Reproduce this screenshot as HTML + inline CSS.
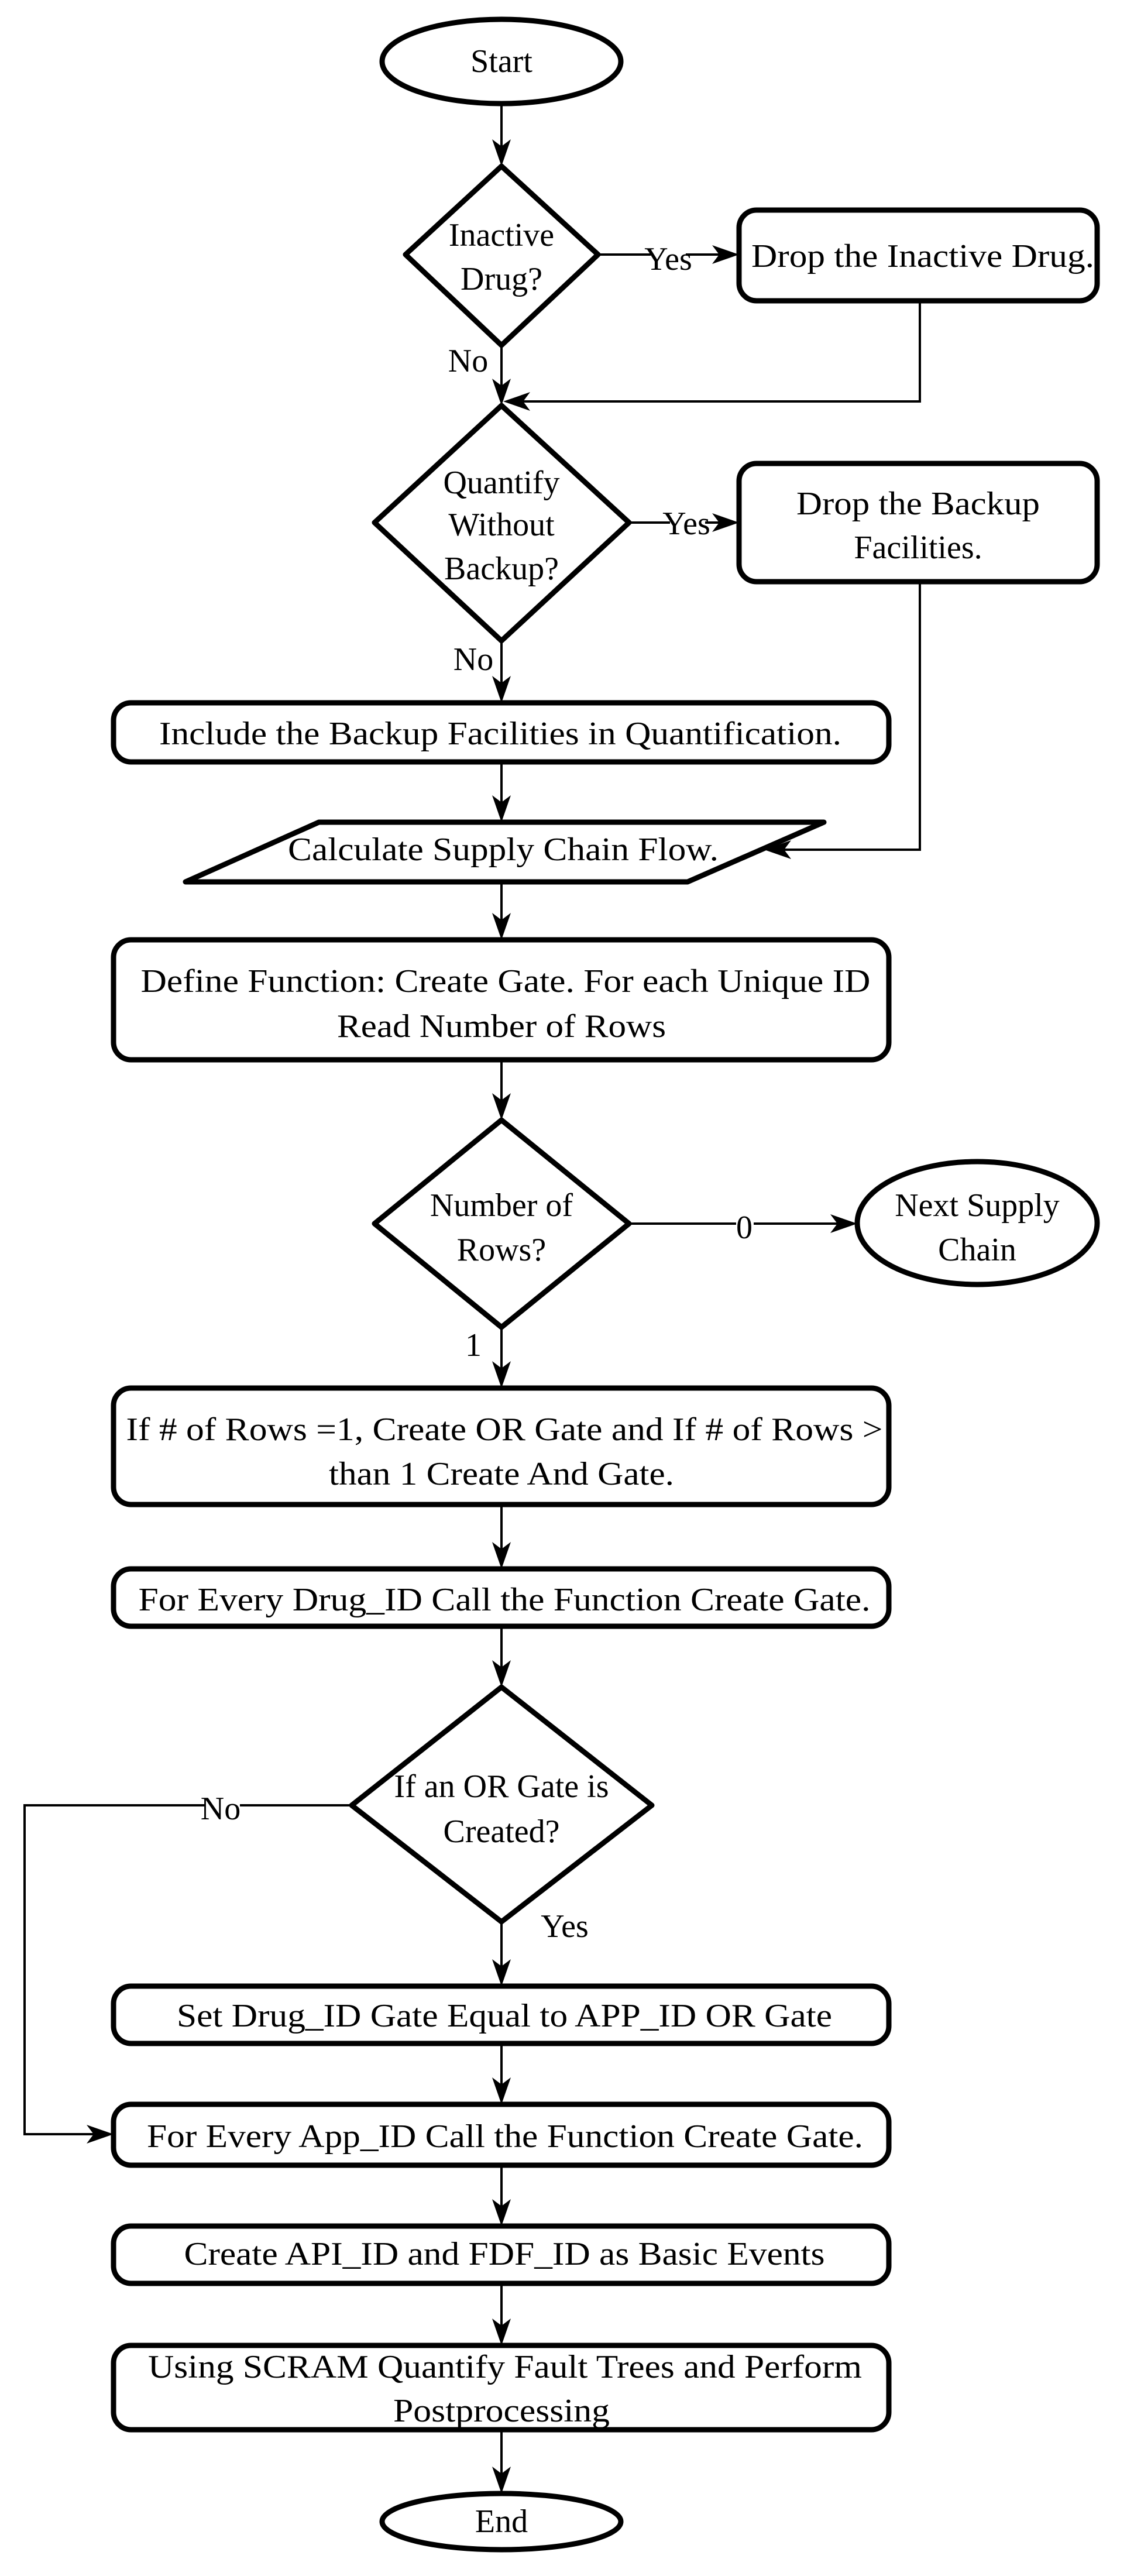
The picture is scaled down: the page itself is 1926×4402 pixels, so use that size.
<!DOCTYPE html>
<html><head><meta charset="utf-8"><style>
html,body{margin:0;padding:0;background:#fff;}
svg{display:block;}
svg text{font-family:"Liberation Serif","Times New Roman",Times,serif;font-size:56px;fill:#000;text-anchor:middle;}
.s{fill:#fff;stroke:#000;stroke-width:9;stroke-linejoin:round;}
.c{fill:none;stroke:#000;stroke-width:4;}
.a{fill:#000;}
</style></head><body>
<svg width="1926" height="4402" viewBox="0 0 1926 4402" xmlns="http://www.w3.org/2000/svg" font-family="Liberation Serif, serif">
<path class="c" d="M857 177V270 M1022 435H1250 M857 590V680 M1572 514V686H872 M1075 893H1250 M857 1095V1190 M857 1302V1392 M1572 994V1452H1318 M857 1507V1594 M857 1811V1902 M1075 2091H1452 M857 2268V2360 M857 2571V2670 M857 2779V2872 M857 3284V3382 M601 3085H42V3647H182 M857 3492V3585 M857 3700V3792 M857 3902V3996 M857 4152V4250"/>
<g class="a">
<polygon points="857,284 841,238 857,250 873,238"/>
<polygon points="857,693 841,647 857,659 873,647"/>
<polygon points="857,1201 841,1155 857,1167 873,1155"/>
<polygon points="857,1405 841,1359 857,1371 873,1359"/>
<polygon points="857,1606 841,1560 857,1572 873,1560"/>
<polygon points="857,1914 841,1868 857,1880 873,1868"/>
<polygon points="857,2372 841,2326 857,2338 873,2326"/>
<polygon points="857,2681 841,2635 857,2647 873,2635"/>
<polygon points="857,2883 841,2837 857,2849 873,2837"/>
<polygon points="857,3394 841,3348 857,3360 873,3348"/>
<polygon points="857,3596 841,3550 857,3562 873,3550"/>
<polygon points="857,3804 841,3758 857,3770 873,3758"/>
<polygon points="857,4008 841,3962 857,3974 873,3962"/>
<polygon points="857,4261 841,4215 857,4227 873,4215"/>
<polygon points="1263,435 1217,419 1229,435 1217,451"/>
<polygon points="1263,893 1217,877 1229,893 1217,909"/>
<polygon points="1465,2091 1419,2075 1431,2091 1419,2107"/>
<polygon points="194,3647 148,3631 160,3647 148,3663"/>
<polygon points="860,686 906,670 894,686 906,702"/>
<polygon points="1306,1452 1352,1436 1340,1452 1352,1468"/>
</g>
<ellipse class="s" cx="857" cy="105" rx="204" ry="72"/>
<polygon class="s" points="857,284 1022,435 857,590 693,435"/>
<rect class="s" x="1263" y="359" width="612" height="155" rx="30"/>
<polygon class="s" points="857,693 1075,893 857,1095 640,893"/>
<rect class="s" x="1263" y="792" width="612" height="202" rx="30"/>
<rect class="s" x="194" y="1201" width="1325" height="101" rx="30"/>
<polygon class="s" points="545,1405 1408,1405 1175,1507 317,1507"/>
<rect class="s" x="194" y="1606" width="1325" height="205" rx="30"/>
<polygon class="s" points="857,1914 1075,2091 857,2268 640,2091"/>
<ellipse class="s" cx="1670" cy="2090" rx="205" ry="105"/>
<rect class="s" x="194" y="2372" width="1325" height="199" rx="30"/>
<rect class="s" x="194" y="2681" width="1325" height="98" rx="30"/>
<polygon class="s" points="857,2883 1114,3085 857,3284 601,3085"/>
<rect class="s" x="194" y="3394" width="1325" height="98" rx="30"/>
<rect class="s" x="194" y="3596" width="1325" height="104" rx="30"/>
<rect class="s" x="194" y="3804" width="1325" height="98" rx="30"/>
<rect class="s" x="194" y="4008" width="1325" height="144" rx="30"/>
<ellipse class="s" cx="857" cy="4309" rx="204" ry="48"/>
<text x="857" y="123">Start</text>
<text x="857" y="420">Inactive</text>
<text x="857" y="495">Drug?</text>
<text x="1577" y="456" textLength="586" lengthAdjust="spacingAndGlyphs">Drop the Inactive Drug.</text>
<rect x="1112" y="415" width="60" height="50" fill="#fff"/>
<text x="1142" y="461">Yes</text>
<text x="800" y="635">No</text>
<text x="857" y="843">Quantify</text>
<text x="857" y="915">Without</text>
<text x="857" y="990">Backup?</text>
<rect x="1145" y="868" width="60" height="50" fill="#fff"/>
<text x="1173" y="913">Yes</text>
<text x="1569" y="879" textLength="416" lengthAdjust="spacingAndGlyphs">Drop the Backup</text>
<text x="1569" y="954">Facilities.</text>
<text x="809" y="1145">No</text>
<text x="855" y="1272" textLength="1166" lengthAdjust="spacingAndGlyphs">Include the Backup Facilities in Quantification.</text>
<text x="860" y="1470" textLength="736" lengthAdjust="spacingAndGlyphs">Calculate Supply Chain Flow.</text>
<text x="864" y="1695" textLength="1247" lengthAdjust="spacingAndGlyphs">Define Function: Create Gate. For each Unique ID</text>
<text x="857" y="1772" textLength="562" lengthAdjust="spacingAndGlyphs">Read Number of Rows</text>
<text x="857" y="2078">Number of</text>
<text x="857" y="2154">Rows?</text>
<rect x="1258" y="2070" width="30" height="46" fill="#fff"/>
<text x="1272" y="2116">0</text>
<text x="1670" y="2078">Next Supply</text>
<text x="1670" y="2154">Chain</text>
<text x="809" y="2317">1</text>
<text x="862" y="2461" textLength="1293" lengthAdjust="spacingAndGlyphs">If # of Rows =1, Create OR Gate and If # of Rows &gt;</text>
<text x="857" y="2537" textLength="590" lengthAdjust="spacingAndGlyphs">than 1 Create And Gate.</text>
<text x="862" y="2752" textLength="1251" lengthAdjust="spacingAndGlyphs">For Every Drug_ID Call the Function Create Gate.</text>
<text x="857" y="3071">If an OR Gate is</text>
<text x="857" y="3148">Created?</text>
<rect x="350" y="3065" width="60" height="46" fill="#fff"/>
<text x="377" y="3109">No</text>
<text x="965" y="3310">Yes</text>
<text x="862" y="3463" textLength="1120" lengthAdjust="spacingAndGlyphs">Set Drug_ID Gate Equal to APP_ID OR Gate</text>
<text x="863" y="3669" textLength="1224" lengthAdjust="spacingAndGlyphs">For Every App_ID Call the Function Create Gate.</text>
<text x="862" y="3870" textLength="1095" lengthAdjust="spacingAndGlyphs">Create API_ID and FDF_ID as Basic Events</text>
<text x="863" y="4063" textLength="1220" lengthAdjust="spacingAndGlyphs">Using SCRAM Quantify Fault Trees and Perform</text>
<text x="857" y="4138" textLength="370" lengthAdjust="spacingAndGlyphs">Postprocessing</text>
<text x="857" y="4327">End</text>
</svg>
</body></html>
